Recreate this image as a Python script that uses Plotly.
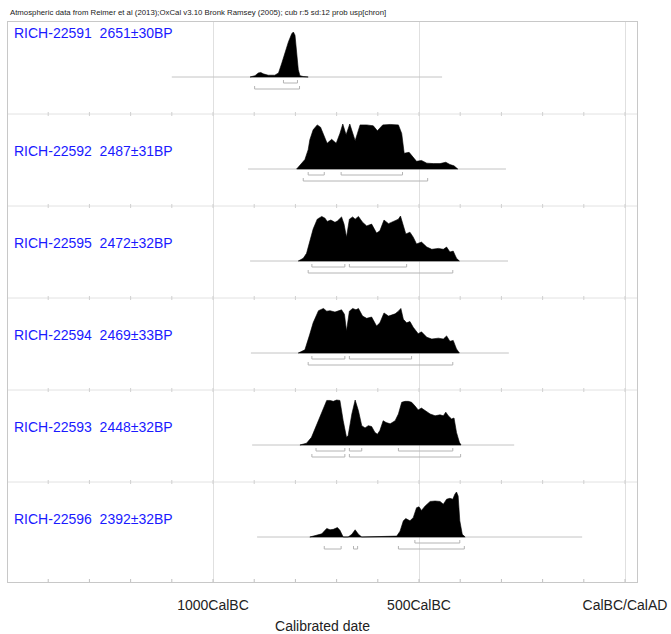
import plotly.graph_objects as go

# ---------------- data ----------------
title_text = ("Atmospheric data from Reimer et al (2013);OxCal v3.10 Bronk Ramsey (2005); "
              "cub r:5 sd:12 prob usp[chron]")

labels = ["RICH-22591  2651\u00b130BP", "RICH-22592  2487\u00b131BP", "RICH-22595  2472\u00b132BP",
          "RICH-22594  2469\u00b133BP", "RICH-22593  2448\u00b132BP", "RICH-22596  2392\u00b132BP"]

years_1 = [-910, -898, -890, -884, -878, -866, -850, -841, -833, -825, -817, -809, -805, -801,
           -797, -793, -789, -781, -769]
prob_1 = [0, 0.03, 0.09, 0.10, 0.07, 0.04, 0.04, 0.09, 0.31, 0.56, 0.78, 0.96, 1.0, 0.93,
          0.53, 0.16, 0.03, 0.01, 0]

years_2 = [-797, -785, -777, -769, -765, -757, -747, -739, -731, -723, -712, -701, -692, -685,
           -677, -668, -655, -643, -627, -611, -601, -588, -570, -550, -542, -536, -524, -515,
           -506, -494, -481, -465, -449, -435, -425, -415, -406]
prob_2 = [0, 0.13, 0.21, 0.43, 0.65, 0.87, 0.98, 0.93, 0.76, 0.57, 0.66, 0.57, 0.79, 1.0,
          0.76, 1.0, 0.63, 0.98, 0.98, 0.96, 0.85, 0.98, 0.99, 0.98, 0.79, 0.35, 0.37, 0.28,
          0.17, 0.19, 0.13, 0.12, 0.12, 0.15, 0.10, 0.07, 0]

years_3 = [-793, -781, -773, -765, -757, -747, -736, -728, -723, -714, -704, -698, -688, -682,
           -676, -669, -661, -655, -647, -637, -627, -615, -603, -595, -585, -574, -561, -550,
           -545, -538, -532, -522, -514, -506, -494, -481, -469, -453, -441, -433, -425, -417,
           -409, -402]
prob_3 = [0, 0.06, 0.17, 0.46, 0.71, 0.93, 0.99, 0.95, 0.88, 0.91, 0.86, 0.89, 0.98, 0.82,
          0.53, 0.93, 0.98, 0.93, 0.99, 0.86, 0.78, 0.82, 0.62, 0.67, 0.91, 0.83, 0.89, 0.93,
          1.0, 0.78, 0.60, 0.64, 0.53, 0.38, 0.42, 0.31, 0.26, 0.28, 0.26, 0.31, 0.20, 0.22,
          0.06, 0]

years_4 = [-793, -777, -765, -757, -744, -732, -724, -716, -704, -696, -688, -681, -676, -669,
           -661, -653, -647, -637, -627, -615, -603, -595, -585, -574, -558, -550, -544, -538,
           -530, -522, -514, -502, -494, -481, -469, -453, -441, -433, -425, -417, -409, -402]
prob_4 = [0, 0.07, 0.42, 0.67, 0.94, 0.99, 0.93, 0.94, 0.91, 0.93, 0.96, 0.86, 0.49, 0.93,
          0.99, 0.96, 0.99, 0.82, 0.77, 0.80, 0.60, 0.67, 0.89, 0.82, 0.87, 0.93, 0.99, 0.75,
          0.67, 0.70, 0.57, 0.43, 0.47, 0.35, 0.31, 0.33, 0.31, 0.38, 0.26, 0.28, 0.09, 0]

years_5 = [-789, -773, -761, -748, -740, -732, -724, -716, -708, -700, -692, -684, -676, -672,
           -663, -655, -647, -639, -631, -623, -615, -607, -601, -595, -587, -580, -570, -558,
           -550, -542, -534, -526, -518, -510, -502, -494, -485, -473, -461, -449, -441, -435,
           -429, -421, -415, -409, -402, -398]
prob_5 = [0, 0.04, 0.17, 0.47, 0.65, 0.80, 0.99, 0.99, 0.97, 1.0, 0.99, 0.54, 0.17, 0.21,
          0.69, 1.0, 0.76, 0.43, 0.38, 0.43, 0.41, 0.28, 0.24, 0.32, 0.54, 0.50, 0.47, 0.54,
          0.69, 0.95, 0.97, 0.97, 0.95, 0.87, 0.78, 0.82, 0.76, 0.69, 0.65, 0.67, 0.65, 0.73,
          0.65, 0.58, 0.60, 0.28, 0.06, 0]

years_6 = [-765, -748, -736, -724, -716, -708, -698, -692, -684, -672, -663, -655, -647, -639,
           -619, -587, -570, -554, -546, -538, -532, -522, -514, -506, -500, -494, -485, -473,
           -461, -449, -441, -433, -425, -418, -413, -409, -405, -401, -395, -388]
prob_6 = [0, 0.04, 0.07, 0.19, 0.16, 0.17, 0.21, 0.15, 0, 0, 0.06, 0.16, 0.06, 0,
          0.005, 0.015, 0.01, 0.02, 0.13, 0.36, 0.41, 0.36, 0.43, 0.65, 0.67, 0.59, 0.69, 0.79,
          0.80, 0.79, 0.73, 0.84, 0.86, 0.84, 0.95, 1.0, 0.91, 0.36, 0.06, 0]

years_all = [years_1, years_2, years_3, years_4, years_5, years_6]
probs_all = [prob_1, prob_2, prob_3, prob_4, prob_5, prob_6]

# extent of each row's baseline (years, negative = BC)
base_start = [-1100, -915, -910, -908, -905, -893]
base_end = [-444, -289, -284, -282, -269, -104]

# 68.2% and 95.4% ranges
ranges_68 = [[(-829, -795)],
             [(-769, -730), (-689, -540)],
             [(-760, -680), (-669, -530)],
             [(-760, -680), (-669, -518)],
             [(-750, -680), (-669, -639), (-550, -418)],
             [(-510, -401)]]
ranges_95 = [[(-899, -790)],
             [(-781, -479)],
             [(-769, -418)],
             [(-769, -418)],
             [(-760, -680), (-669, -399)],
             [(-730, -689), (-659, -649), (-550, -390)]]

minor_tick_years = [-1400, -1300, -1200, -1100, -1000, -900, -800, -700, -600, -500,
                    -400, -300, -200, -100, 0]
major_tick_years = [-1000, -500, 0]
major_tick_text = ["1000CalBC", "500CalBC", "CalBC/CalAD"]

# ---------------- layout geometry (pixels from top) ----------------
W, H = 671, 634
PLOT_TOP, PLOT_BOTTOM = 22, 582
ROW_H = 92
BASE_OFF = 55
PEAK_H = 45
label_off = [11, 37, 37, 37, 37, 37]
X_RANGE = [-1497.6, 29.1]

def to_paper(py):
    return (PLOT_BOTTOM - py) / (PLOT_BOTTOM - PLOT_TOP)

fig = go.Figure()
grey_line = "#c4c4c4"
bracket_col = "#b4b4b4"

for i in range(6):
    top = PLOT_TOP + ROW_H * i
    base = top + BASE_OFF
    # baseline
    fig.add_trace(go.Scatter(x=[base_start[i], base_end[i]], y=[base, base], mode="lines",
                             line=dict(color=grey_line, width=1), hoverinfo="skip"))
    # distribution
    ys = [base - PEAK_H * p for p in probs_all[i]]
    xs = list(years_all[i]) + [years_all[i][-1], years_all[i][0]]
    ys = ys + [base, base]
    fig.add_trace(go.Scatter(x=xs, y=ys, mode="lines", fill="toself", fillcolor="black",
                             line=dict(color="black", width=0.6), hoverinfo="skip"))
    # brackets
    for rngs, off in ((ranges_68[i], 6), (ranges_95[i], 12)):
        bx, by = [], []
        yb = base + off
        for a, b in rngs:
            bx += [a, a, b, b, None]
            by += [yb - 3, yb, yb, yb - 3, None]
        fig.add_trace(go.Scatter(x=bx, y=by, mode="lines", line=dict(color=bracket_col, width=1),
                                 hoverinfo="skip"))
    # label
    fig.add_annotation(text=labels[i], xref="paper", yref="paper", x=0, xshift=4,
                       y=to_paper(top + label_off[i]), xanchor="left", yanchor="middle",
                       showarrow=False, font=dict(family="Liberation Sans, Arial", size=14,
                                                  color="#1a1aff"))

# row separators with small ticks
for i in range(1, 6):
    yy = PLOT_TOP + ROW_H * i
    fig.add_shape(type="line", xref="paper", yref="y", x0=0, x1=1, y0=yy, y1=yy,
                  line=dict(color="#e2e2e2", width=1), layer="below")
    tx, ty = [], []
    for t in minor_tick_years:
        tx += [t, t, None]
        ty += [yy - 2, yy + 2, None]
    fig.add_trace(go.Scatter(x=tx, y=ty, mode="lines", line=dict(color="#d0d0d0", width=1),
                             hoverinfo="skip"))

# bottom axis ticks
tx, ty = [], []
for t in minor_tick_years:
    tx += [t, t, None]
    ty += [PLOT_BOTTOM, PLOT_BOTTOM - 3, None]
fig.add_trace(go.Scatter(x=tx, y=ty, mode="lines", line=dict(color="#c0c0c0", width=1),
                         hoverinfo="skip"))

fig.add_annotation(text=title_text, xref="paper", yref="paper", x=0, y=to_paper(12),
                   xanchor="left", yanchor="middle", showarrow=False,
                   font=dict(family="Liberation Sans, Arial", size=7.8, color="#222"))

fig.update_layout(
    width=W, height=H,
    margin=dict(l=8, r=W - 637, t=PLOT_TOP, b=H - PLOT_BOTTOM, pad=0),
    paper_bgcolor="white", plot_bgcolor="white",
    showlegend=False,
    font=dict(family="Liberation Sans, Arial", color="#222"),
    xaxis=dict(range=X_RANGE, tickvals=major_tick_years, ticktext=major_tick_text,
               ticks="", showgrid=True, gridcolor="#e0e0e0", gridwidth=1, zeroline=False,
               showline=True, linecolor="#c8c8c8", linewidth=1, mirror=True,
               tickfont=dict(size=14, color="#222"), ticklabelstandoff=10,
               title=dict(text="Calibrated date", font=dict(size=14, color="#222"), standoff=11),
               automargin=False, fixedrange=True),
    yaxis=dict(range=[PLOT_BOTTOM, PLOT_TOP], showticklabels=False, ticks="", showgrid=False,
               zeroline=False, showline=True, linecolor="#c8c8c8", linewidth=1, mirror=True,
               automargin=False, fixedrange=True),
)

fig.write_html("out.html", config={"displayModeBar": False},
               post_script="document.body.style.margin='0';document.body.style.overflow='hidden';")
